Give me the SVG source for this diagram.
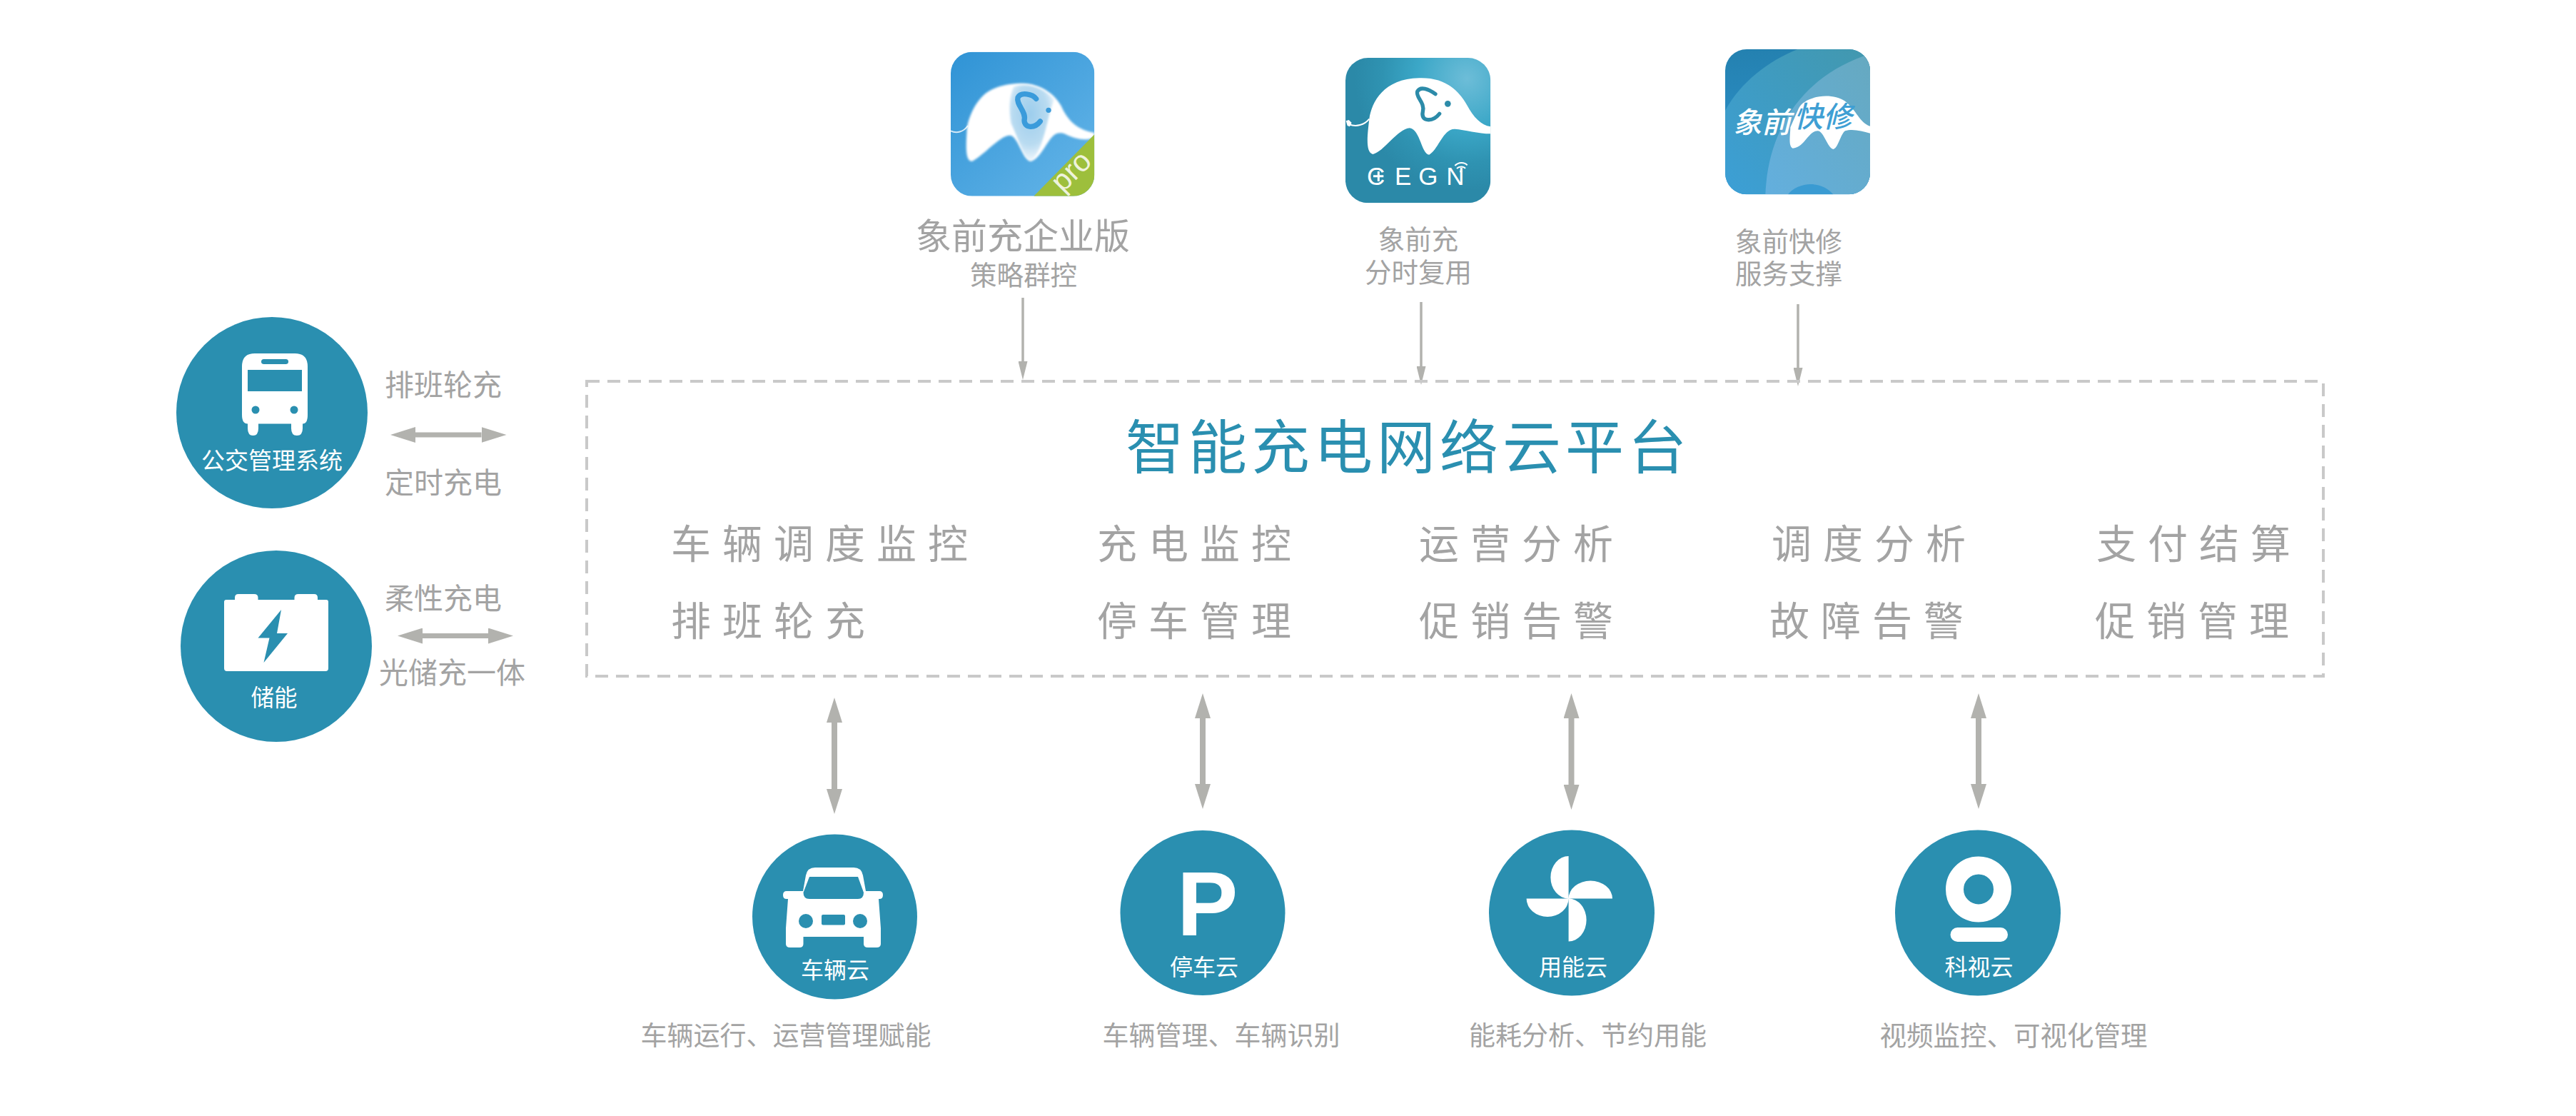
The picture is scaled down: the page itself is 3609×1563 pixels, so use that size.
<svg xmlns="http://www.w3.org/2000/svg" width="3609" height="1563" viewBox="0 0 3609 1563">
<style>
text{font-family:"Noto Sans CJK SC","Noto Sans",sans-serif}
.g{fill:#a3a3a3}
.m{text-anchor:middle}
.w{fill:#fff}
.disc{fill:#2a8fb0}
.ic{fill:#fff}
.row{font-size:56px;letter-spacing:16px;fill:#a3a3a3}
.ln{stroke:#b2b2ae;fill:none}
.lat{font-family:"Liberation Sans",Arial,sans-serif}
</style>
<defs>
<marker id="hs" markerUnits="userSpaceOnUse" viewBox="0 0 26 13" markerWidth="26" markerHeight="13" refX="0" refY="6.5" orient="auto"><path d="M0,0L26,6.5L0,13Z" fill="#b2b2ae"/></marker>
<marker id="hb" markerUnits="userSpaceOnUse" viewBox="0 0 35 22" markerWidth="35" markerHeight="22" refX="0" refY="11" orient="auto-start-reverse"><path d="M0,0L35,11L0,22Z" fill="#b2b2ae"/></marker>
<linearGradient id="a1" x1="0" y1="0" x2="1" y2="1"><stop offset="0" stop-color="#2f93d5"/><stop offset="1" stop-color="#66b6e9"/></linearGradient>
<radialGradient id="e1" gradientUnits="userSpaceOnUse" cx="370" cy="300" r="1" gradientTransform="translate(370 300) scale(125 215) translate(-370 -300)"><stop offset="0" stop-color="#9ccdec"/><stop offset=".6" stop-color="#b9dbf1"/><stop offset="1" stop-color="#b9dbf1" stop-opacity="0"/></radialGradient>
<filter id="soft" x="-5%" y="-5%" width="110%" height="110%"><feGaussianBlur stdDeviation="4"/></filter>
<radialGradient id="a2" gradientUnits="userSpaceOnUse" cx="540" cy="120" r="470"><stop offset="0" stop-color="#6dbdd8"/><stop offset=".45" stop-color="#3ba7c7"/><stop offset=".75" stop-color="#2f93b2"/><stop offset="1" stop-color="#2b89a8"/></radialGradient>
<linearGradient id="a3" x1="0" y1="0" x2="0" y2="1"><stop offset="0" stop-color="#2481b0"/><stop offset="1" stop-color="#2f95d2"/></linearGradient>
<linearGradient id="a3b" x1="1" y1="0" x2="0" y2="1"><stop offset="0" stop-color="#4298ae"/><stop offset="1" stop-color="#3c9fd6"/></linearGradient>
<linearGradient id="a3c" x1="0" y1="1" x2="1" y2="0"><stop offset="0" stop-color="#63afde"/><stop offset="1" stop-color="#66a9c0"/></linearGradient>
<clipPath id="c1"><rect x="36" y="38" width="604" height="606" rx="90"/></clipPath>
<clipPath id="c2"><rect x="30" y="33" width="610" height="610" rx="95"/></clipPath>
<clipPath id="c3"><rect x="36" y="42" width="609" height="610" rx="90"/></clipPath>
</defs>
<rect width="3609" height="1563" fill="#fff"/>

<g id="connectors">
<line class="ln" stroke-width="3.5" x1="1433" y1="417" x2="1433" y2="506" marker-end="url(#hs)"/>
<line class="ln" stroke-width="3.5" x1="1991" y1="423" x2="1991" y2="513" marker-end="url(#hs)"/>
<line class="ln" stroke-width="3.5" x1="2519" y1="426" x2="2519" y2="515" marker-end="url(#hs)"/>
<line class="ln" stroke-width="7" x1="582" y1="609" x2="674.5" y2="609" marker-start="url(#hb)" marker-end="url(#hb)"/>
<line class="ln" stroke-width="7" x1="592" y1="890.5" x2="684" y2="890.5" marker-start="url(#hb)" marker-end="url(#hb)"/>
<line class="ln" stroke-width="8" x1="1169" y1="1012" x2="1169" y2="1105" marker-start="url(#hb)" marker-end="url(#hb)"/>
<line class="ln" stroke-width="8" x1="1685" y1="1006" x2="1685" y2="1098" marker-start="url(#hb)" marker-end="url(#hb)"/>
<line class="ln" stroke-width="8" x1="2201.5" y1="1006" x2="2201.5" y2="1099" marker-start="url(#hb)" marker-end="url(#hb)"/>
<line class="ln" stroke-width="8" x1="2772" y1="1006" x2="2772" y2="1098" marker-start="url(#hb)" marker-end="url(#hb)"/>
</g>

<g id="platform">
<rect x="822" y="534" width="2433" height="413" fill="none" stroke="#c9c9c9" stroke-width="4" stroke-dasharray="18 11"/>
<text x="1577" y="656" font-size="82" letter-spacing="6" fill="#2a8fb0">智能充电网络云平台</text>
<text class="row" x="940" y="782">车辆调度监控</text>
<text class="row" x="940" y="890">排班轮充</text>
<text class="row" x="1537" y="782">充电监控</text>
<text class="row" x="1537" y="890">停车管理</text>
<text class="row" x="1988" y="782">运营分析</text>
<text class="row" x="1988" y="890">促销告警</text>
<text class="row" x="2482" y="782">调度分析</text>
<text class="row" x="2479" y="890">故障告警</text>
<text class="row" x="2937" y="782">支付结算</text>
<text class="row" x="2935" y="890">促销管理</text>
</g>

<g id="app-enterprise">
<g transform="translate(1320 60) scale(.33333)">
<g clip-path="url(#c1)">
<rect x="36" y="38" width="604" height="606" fill="url(#a1)"/>
<path d="M36,370C60,382 90,375 108,348" fill="none" stroke="#d4e9f7" stroke-width="6"/>
<path filter="url(#soft)" d="M105,350C115,310 130,270 160,235C195,190 260,170 340,170C410,172 470,210 500,265C525,320 560,365 640,378L640,395C610,415 560,405 520,385C500,375 480,378 465,392C440,415 410,490 372,498C340,495 320,400 290,390C250,380 180,470 125,498C95,495 100,430 105,350Z" fill="#fff"/>
<path d="M300,185C360,165 430,190 470,240C440,310 430,450 372,496C340,480 320,400 290,340C280,290 280,230 300,185Z" fill="url(#e1)" filter="url(#soft)"/>
<path d="M395,235C380,215 330,205 318,230C310,260 355,290 345,325C345,360 390,360 412,330" fill="none" stroke="#3a9bdb" stroke-width="22" stroke-linecap="round"/>
<circle cx="447" cy="283" r="11" fill="#3a9bdb"/>
<path d="M640,385L385,644H640Z" fill="#9dbf3c"/>
<text class="lat" transform="translate(507 632) rotate(-45)" font-size="125" fill="#eef3dc">pro</text>
</g>
</g>
<text class="g m" x="1433" font-size="37.5"><tspan x="1433" y="349" font-size="50">象前充企业版</tspan><tspan x="1434" y="399">策略群控</tspan></text>
</g>

<g id="app-charge">
<g transform="translate(1875 70) scale(.33333)">
<g clip-path="url(#c2)">
<rect x="30" y="33" width="610" height="610" fill="url(#a2)"/>
<path d="M45,312C75,325 110,315 130,290" fill="none" stroke="#fff" stroke-width="6"/>
<path d="M32,298L44,294L56,306L48,322L38,318Z" fill="#fff"/>
<path d="M130,290C140,220 190,120 340,118C440,115 500,160 540,230C570,285 600,315 640,322V352C590,352 530,335 490,332C440,330 420,420 382,440C350,440 345,335 300,328C250,330 190,430 145,438C110,430 125,340 130,290Z" fill="#fff"/>
<path d="M408,185C380,165 345,150 332,175C325,200 365,220 355,260C345,300 395,305 425,268" fill="none" stroke="#2c8ba9" stroke-width="16" stroke-linecap="round"/>
<circle cx="460" cy="226" r="13" fill="#2c8ba9"/>
<text class="lat w" y="567" font-size="105" x="120 237 337 454">CEGN</text>
<path d="M147,530H190M169,510V552" fill="none" stroke="#fff" stroke-width="9"/>
<path d="M490,486C505,470 530,470 542,484M498,498C508,488 526,488 534,498" fill="none" stroke="#fff" stroke-width="6"/>
<circle cx="515" cy="510" r="5" fill="#fff"/>
</g>
</g>
<text class="g m" font-size="37.5"><tspan x="1987" y="349">象前充</tspan><tspan x="1987" y="395">分时复用</tspan></text>
</g>

<g id="app-repair">
<g transform="translate(2405 55) scale(.33333)">
<g clip-path="url(#c3)">
<rect x="36" y="42" width="609" height="610" fill="url(#a3)"/>
<path d="M36,300C100,180 220,90 340,42H645V652H36Z" fill="url(#a3b)"/>
<path d="M205,652C215,400 340,170 620,70L645,60V652Z" fill="url(#a3c)"/>
<path d="M300,652C340,600 440,590 490,652Z" fill="#3a9bd2"/>
<path d="M345,290C370,240 480,220 540,260C590,300 600,350 645,365V395C610,385 570,375 540,385C520,400 510,460 490,462C465,455 450,385 425,385C385,385 370,455 320,458C300,450 310,400 310,370Z" fill="#fff"/>
<text transform="translate(68 394) skewX(-14)" font-size="122" font-weight="500" fill="#fff">象前</text>
<text transform="translate(325 370) skewX(-14)" font-size="122" font-weight="500" fill="#3f9fd4">快修</text>
</g>
</g>
<text class="g m" font-size="37.5"><tspan x="2506" y="352">象前快修</tspan><tspan x="2506" y="397">服务支撑</tspan></text>
</g>

<g id="bus">
<circle class="disc" cx="381" cy="578" r="134"/>
<path class="ic" d="M339,581V513Q339,495 357,495H413Q431,495 431,513V581Q431,593.5 424,593.5V600Q424,610 416,610T408,600V593.5H362V600Q362,610 354.500,610T347,600V593.500Q339,593.500 339,581Z"/>
<rect class="disc" x="347" y="518" width="76" height="30"/>
<rect class="disc" x="366" y="503" width="38" height="7" rx="3.500"/>
<circle class="disc" cx="358" cy="574" r="5.500"/>
<circle class="disc" cx="412" cy="574" r="5.500"/>
<text class="w m" x="381" y="657" font-size="33">公交管理系统</text>
<text class="g" x="539" y="554" font-size="41">排班轮充</text>
<text class="g" x="539" y="691" font-size="41">定时充电</text>
</g>

<g id="storage">
<circle class="disc" cx="387" cy="905" r="134"/>
<path class="ic" d="M317,840H329V837Q329,832 334,832H356Q361.500,832 361.500,837V840H412.500V837Q412.500,832 418,832H440Q445,832 445,837V840H457Q460,840 460,843V936Q460,940 456,940H318Q314,940 314,936V843Q314,840 317,840Z"/>
<path class="disc" d="M394,854L361.500,893.500H377.500L369.500,928L403,887H388Z"/>
<text class="w m" x="384" y="989" font-size="32.500">储能</text>
<text class="g" x="539" y="853" font-size="41">柔性充电</text>
<text class="g" x="531" y="957" font-size="41">光储充一体</text>
</g>

<g id="vehicle-cloud">
<circle class="disc" cx="1169.500" cy="1284" r="115.500"/>
<path class="ic" d="M1125,1248L1129,1226Q1131,1215 1142,1215H1196Q1207,1215 1209,1226L1213,1248H1232Q1237,1248 1237,1253.500T1232,1259H1231L1234,1300V1322Q1234,1327 1228,1327H1216Q1210,1327 1210,1322V1312H1125.500V1322Q1125.500,1327 1120,1327H1107Q1101,1327 1101,1322V1300L1104,1259H1102Q1097,1259 1097,1253.500T1102,1248Z"/>
<path class="disc" d="M1134,1228H1202L1210,1250Q1210,1259 1202,1259H1134Q1125.500,1259 1125.500,1250Z"/>
<ellipse class="disc" cx="1129" cy="1290" rx="10" ry="10"/>
<ellipse class="disc" cx="1205" cy="1290" rx="10" ry="10"/>
<rect class="disc" x="1151" y="1281" width="33" height="14.500" rx="2"/>
<text class="w m" x="1170" y="1370" font-size="32">车辆云</text>
<text class="g m" x="1101" y="1464" font-size="37">车辆运行、运营管理赋能</text>
</g>

<g id="parking-cloud">
<circle class="disc" cx="1685" cy="1278.500" r="115.500"/>
<text class="lat w" x="1649" y="1310" font-size="128" font-weight="700">P</text>
<text class="w m" x="1687" y="1366" font-size="32">停车云</text>
<text class="g m" x="1711" y="1464" font-size="37">车辆管理、车辆识别</text>
</g>

<g id="energy-cloud">
<circle class="disc" cx="2202" cy="1278.500" r="116"/>
<path class="ic" d="M2197.600,1199A25,29.500 0 0 0 2197.600,1258.500ZM2197.600,1258.500A30.700,25 0 0 1 2259,1258.500ZM2197.600,1258.500A25,30 0 0 1 2197.600,1318.500ZM2197.600,1258.500A29.500,25.500 0 0 1 2138.600,1258.500Z"/>
<text class="w m" x="2204" y="1366" font-size="32">用能云</text>
<text class="g m" x="2224.500" y="1464" font-size="37">能耗分析、节约用能</text>
</g>

<g id="camera-cloud">
<circle class="disc" cx="2771" cy="1278.500" r="116"/>
<circle cx="2772" cy="1245.500" r="33.500" fill="none" stroke="#fff" stroke-width="25"/>
<rect class="ic" x="2732.500" y="1299" width="80.500" height="20" rx="10"/>
<text class="w m" x="2772.500" y="1366" font-size="32">科视云</text>
<text class="g m" x="2821" y="1464" font-size="37.500">视频监控、可视化管理</text>
</g>
</svg>
